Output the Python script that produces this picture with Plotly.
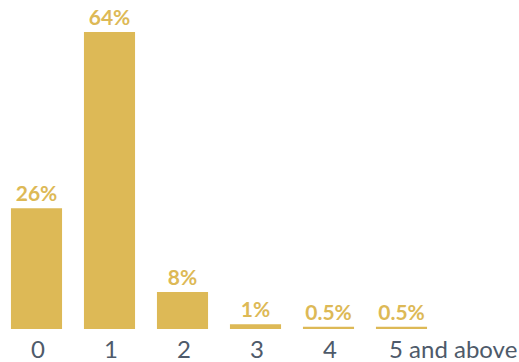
import plotly.graph_objects as go

# Data
categories = ['0', '1', '2', '3', '4', '5 and above']
shares = [26, 64, 8, 1, 0.5, 0.5]
labels = ['26%', '64%', '8%', '1%', '0.5%', '0.5%']

gold = '#DDB956'
grey = '#4E5A6A'

fig = go.Figure()

fig.add_trace(go.Bar(
    x=categories,
    y=shares,
    text=labels,
    textposition='outside',
    textfont=dict(family='Lato', size=21, color=gold, weight='bold'),
    marker_color=gold,
    marker_line_width=0,
    cliponaxis=False,
    hoverinfo='skip'
))

# Category labels as annotations (last one is left-aligned like the original)
for i, cat in enumerate(categories):
    last = i == len(categories) - 1
    fig.add_annotation(
        x=cat, y=0, xref='x', yref='paper',
        text=cat, showarrow=False,
        xanchor='left' if last else 'center',
        yanchor='top',
        xshift=-15 if last else 1,
        yshift=-3,
        font=dict(family='Lato', size=24, color=grey)
    )

fig.update_layout(
    width=519, height=362,
    margin=dict(l=0, r=81, t=0, b=33),
    paper_bgcolor='white',
    plot_bgcolor='white',
    bargap=0.3,
    showlegend=False
)

fig.update_xaxes(showticklabels=False, showgrid=False, zeroline=False, showline=False,
                 range=[-0.5, 5.5])
fig.update_yaxes(visible=False, range=[0, 70.9])

fig.write_html('out.html', config={'displayModeBar': False},
               post_script="document.body.style.margin='0';")
